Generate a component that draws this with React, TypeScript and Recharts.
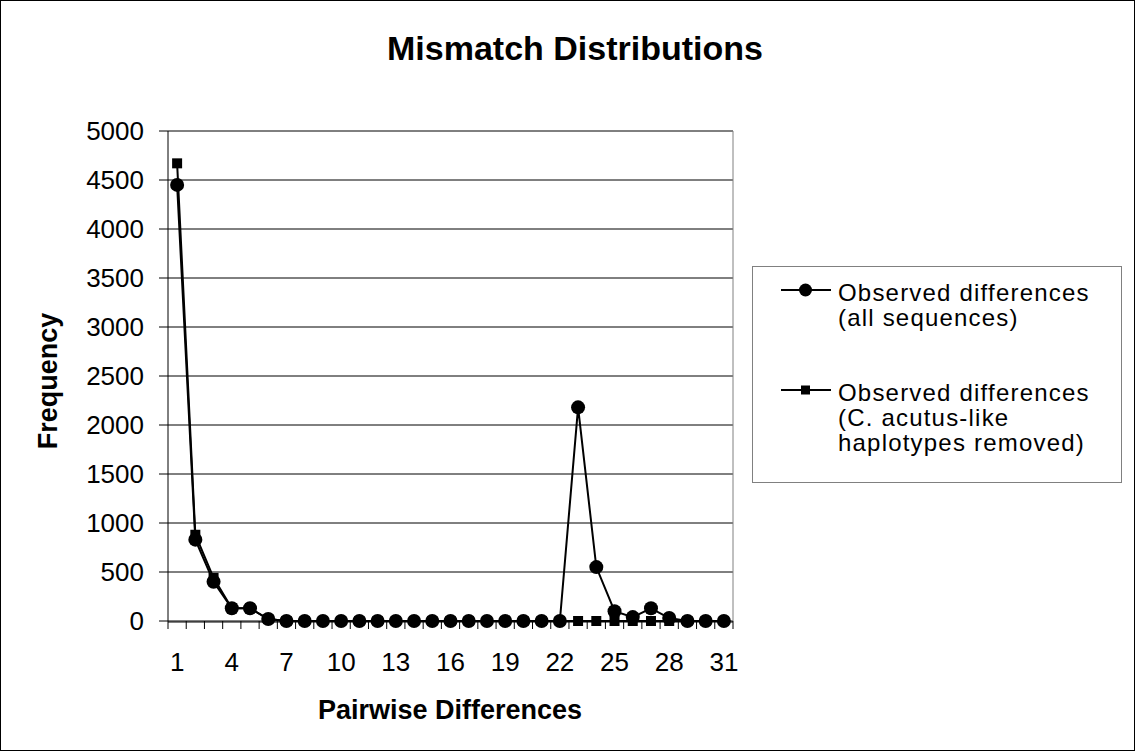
import React from 'react';
import { LineChart, Line, XAxis, YAxis, CartesianGrid, ReferenceLine } from 'recharts';

const categories = Array.from({ length: 31 }, (_, i) => i + 1);
const allSequences = [4450, 830, 400, 130, 130, 20, 0, 0, 0, 0, 0, 0, 0, 0, 0, 0, 0, 0, 0, 0, 0, 0, 2180, 550, 100, 40, 130, 30, 0, 0, 0];
const acutusRemoved = [4670, 880, 440, 130, 130, 20, 0, 0, 0, 0, 0, 0, 0, 0, 0, 0, 0, 0, 0, 0, 0, 0, 0, 0, 0, 0, 0, 0, 0, 0, 0];
const xLabelTicks = [1, 4, 7, 10, 13, 16, 19, 22, 25, 28, 31];
const xBoundaryTicks = Array.from({ length: 32 }, (_, i) => i + 0.5);
const yTicks = [0, 500, 1000, 1500, 2000, 2500, 3000, 3500, 4000, 4500, 5000];

const data = categories.map((c, i) => ({ x: c, all: allSequences[i], removed: acutusRemoved[i] }));

const FONT = '"Liberation Sans", Arial, sans-serif';

const Square = (props: any) => {
  const { cx, cy } = props;
  if (cx == null || cy == null) return null;
  return <rect x={cx - 5} y={cy - 5} width={10} height={10} fill="#000" />;
};

const NoLabel = () => <g />;

export default function App() {
  return (
    <div style={{ position: 'absolute', left: 0, top: 0, width: 1135, height: 751, boxSizing: 'border-box', border: '1px solid #000', background: '#fff', fontFamily: FONT, color: '#000' }}>
      <div style={{ position: 'absolute', left: 0, top: 0 }}>
        <LineChart width={1133} height={749} data={data} margin={{ top: 130, right: 401, bottom: 0, left: 0 }}>
          <CartesianGrid xAxisId={1} horizontal={true} vertical={false} stroke="#000" strokeWidth={1} />
          <XAxis xAxisId={0} dataKey="x" type="number" domain={[0.5, 31.5]} ticks={xBoundaryTicks} interval={0} tick={<NoLabel />} height={1} axisLine={false} tickLine={{ stroke: '#000' }} tickSize={8} allowDataOverflow />
          <XAxis xAxisId={1} dataKey="x" type="number" domain={[0.5, 31.5]} ticks={xLabelTicks} interval={0} height={128} axisLine={{ stroke: '#000', strokeWidth: 1 }} tickLine={false} tickSize={0} tickMargin={31} tick={{ fill: '#000', fontSize: 26, fontFamily: FONT }} allowDataOverflow />
          <YAxis domain={[0, 5000]} ticks={yTicks} interval={0} width={167} axisLine={{ stroke: '#000' }} tickLine={{ stroke: '#000' }} tickSize={9} tickMargin={15} tick={{ fill: '#000', fontSize: 26, fontFamily: FONT }} />
          <ReferenceLine xAxisId={1} x={31.5} stroke="#808080" strokeWidth={1} />
          <Line xAxisId={1} dataKey="removed" stroke="#000" strokeWidth={2} isAnimationActive={false} dot={<Square />} activeDot={false} />
          <Line xAxisId={1} dataKey="all" stroke="#000" strokeWidth={2} isAnimationActive={false} dot={{ r: 7, fill: '#000', stroke: '#000', strokeWidth: 0 }} activeDot={false} />
        </LineChart>
      </div>
      <div style={{ position: 'absolute', left: 574, top: 30, transform: 'translateX(-50%)', fontSize: 34, lineHeight: '34px', fontWeight: 'bold', whiteSpace: 'nowrap' }}>Mismatch Distributions</div>
      <div style={{ position: 'absolute', left: 449, top: 696, transform: 'translateX(-50%)', fontSize: 27, lineHeight: '27px', fontWeight: 'bold', whiteSpace: 'nowrap' }}>Pairwise Differences</div>
      <div style={{ position: 'absolute', left: 47, top: 380, transform: 'translate(-50%, -50%) rotate(-90deg)', fontSize: 27, lineHeight: '27px', fontWeight: 'bold', whiteSpace: 'nowrap' }}>Frequency</div>
      <div style={{ position: 'absolute', left: 751, top: 265, width: 370, height: 217, border: '1px solid #808080', boxSizing: 'border-box', background: '#fff', fontSize: 24, lineHeight: '25px', letterSpacing: '1.2px' }}>
        <div style={{ position: 'absolute', left: 28, top: 13 }}>
          <svg width={50} height={14} style={{ position: 'absolute', left: 0, top: 3 }}>
            <line x1={0} y1={7} x2={50} y2={7} stroke="#000" strokeWidth={2} />
            <circle cx={24.5} cy={7} r={6.5} fill="#000" />
          </svg>
          <div style={{ position: 'absolute', left: 57, top: 0, whiteSpace: 'nowrap' }}>Observed differences<br />(all sequences)</div>
        </div>
        <div style={{ position: 'absolute', left: 28, top: 113 }}>
          <svg width={50} height={14} style={{ position: 'absolute', left: 0, top: 3 }}>
            <line x1={0} y1={7} x2={50} y2={7} stroke="#000" strokeWidth={2} />
            <rect x={20} y={2.5} width={9} height={9} fill="#000" />
          </svg>
          <div style={{ position: 'absolute', left: 57, top: 0, whiteSpace: 'nowrap' }}>Observed differences<br />(C. acutus-like<br />haplotypes removed)</div>
        </div>
      </div>
    </div>
  );
}
